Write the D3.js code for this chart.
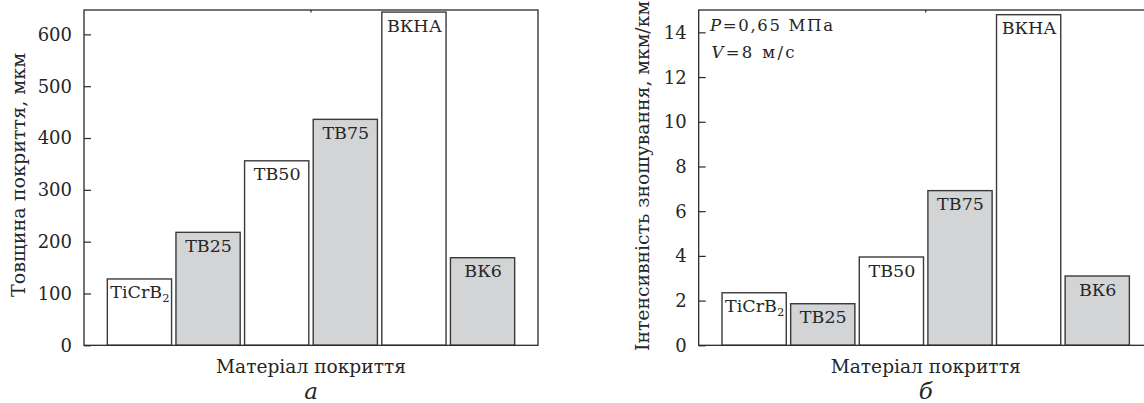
<!DOCTYPE html>
<html><head><meta charset="utf-8">
<script src="https://cdn.jsdelivr.net/npm/d3@7"></script>
<style>
body{margin:0;background:#fff}
svg{display:block;background:#fff}
svg text{font-family:"DejaVu Serif","Liberation Serif",serif}
</style>
</head><body>
<svg id="c" width="1144" height="403"></svg>
<script>
// ---- data ----
const categories = ["TiCrB", "ТВ25", "ТВ50", "ТВ75", "ВКНА", "ВК6"];
const categorySub = ["2", "", "", "", "", ""];
const shaded = [false, true, false, true, false, true];
const thickness = [128, 218, 356, 436, 643, 169];      // мкм
const wearRate = [2.35, 1.86, 3.95, 6.92, 14.79, 3.10]; // мкм/км
const thicknessTicks = [0, 100, 200, 300, 400, 500, 600];
const wearTicks = [0, 2, 4, 6, 8, 10, 12, 14];
const thicknessMax = 647;
const wearMax = 15;
const xTitle = "Матеріал покриття";
const yTitleA = "Товщина покриття, мкм";
const yTitleB = "Інтенсивність зношування, мкм/км";
const panelLetters = ["а", "б"];

(function () {
const svg = d3.select("#c");
const plotTop = 10, plotBottom = 345.3;
const ink = "#2a2a2a";
const txt = "#262626";

const panels = [
  {left: 84, right: 538, values: thickness, max: thicknessMax, ticks: thicknessTicks,
   ytitle: yTitleA, ytX: 25, ytLen: 244, ytCy: 175, letter: panelLetters[0]},
  {left: 698.7, right: 1152.7, values: wearRate, max: wearMax, ticks: wearTicks,
   ytitle: yTitleB, ytX: 649, ytLen: 350, ytCy: 176, letter: panelLetters[1], note: true}
];

panels.forEach(p => {
  const g = svg.append("g");
  const x = d3.scaleBand().domain(categories).range([p.left, p.right])
    .paddingInner(0.064).paddingOuter(0.34);
  const y = d3.scaleLinear().domain([0, p.max]).range([plotBottom, plotTop]);

  g.selectAll("rect.bar").data(categories).join("rect")
    .attr("class", "bar")
    .attr("x", d => x(d))
    .attr("width", x.bandwidth())
    .attr("y", (d, i) => y(p.values[i]))
    .attr("height", (d, i) => y(0) - y(p.values[i]))
    .attr("fill", (d, i) => shaded[i] ? "#d3d4d6" : "#fff")
    .attr("stroke", "#3a3a3a")
    .attr("stroke-width", 1.4);

  const lbl = g.selectAll("text.blab").data(categories).join("text")
    .attr("class", "blab")
    .attr("x", d => x(d) + x.bandwidth() / 2 + 0.5)
    .attr("y", (d, i) => y(p.values[i]) + 19.5)
    .attr("text-anchor", "middle")
    .attr("fill", txt)
    .attr("font-size", 17.5);
  lbl.append("tspan").text(d => d);
  lbl.filter((d, i) => categorySub[i]).append("tspan")
    .attr("font-size", 11.5).attr("dy", 4)
    .text(d => categorySub[categories.indexOf(d)]);

  g.append("rect")
    .attr("x", p.left).attr("y", plotTop)
    .attr("width", p.right - p.left).attr("height", plotBottom - plotTop)
    .attr("fill", "none").attr("stroke", ink).attr("stroke-width", 1.3);
  g.append("line")
    .attr("x1", (p.left + p.right) / 2).attr("x2", (p.left + p.right) / 2)
    .attr("y1", plotTop).attr("y2", plotTop + 2.5)
    .attr("stroke", ink).attr("stroke-width", 1.2);

  const ax = g.append("g").attr("transform", `translate(${p.left},0)`)
    .call(d3.axisRight(y).tickValues(p.ticks).tickSize(7).tickFormat(""));
  ax.select(".domain").remove();
  ax.selectAll(".tick line").attr("stroke", ink).attr("stroke-width", 1.2);

  g.selectAll("text.tl").data(p.ticks).join("text")
    .attr("class", "tl")
    .attr("x", p.left - 12)
    .attr("y", d => y(d))
    .attr("dy", "0.36em")
    .attr("text-anchor", "end")
    .attr("fill", txt)
    .attr("font-size", 18)
    .text(d => d);

  g.append("text")
    .attr("transform", `translate(${p.ytX},${p.ytCy}) rotate(-90)`)
    .attr("text-anchor", "middle")
    .attr("fill", txt)
    .attr("font-size", 18)
    .attr("textLength", p.ytLen).attr("lengthAdjust", "spacingAndGlyphs")
    .text(p.ytitle);

  const cx = (p.left + p.right) / 2;
  g.append("text")
    .attr("x", cx).attr("y", 373)
    .attr("text-anchor", "middle")
    .attr("fill", txt)
    .attr("font-size", 18)
    .attr("textLength", 190).attr("lengthAdjust", "spacingAndGlyphs")
    .text(xTitle);
  g.append("text")
    .attr("x", cx).attr("y", 399)
    .attr("text-anchor", "middle")
    .attr("fill", txt)
    .attr("font-size", 23)
    .attr("font-style", "italic")
    .text(p.letter);

  if (p.note) {
    const n1 = g.append("text").attr("x", 710).attr("y", 31).attr("font-size", 16.5).attr("fill", txt)
      .attr("textLength", 123).attr("lengthAdjust", "spacing");
    n1.append("tspan").attr("font-style", "italic").text("P");
    n1.append("tspan").text("=0,65 МПа");
    const n2 = g.append("text").attr("x", 711.5).attr("y", 57.7).attr("font-size", 16.5).attr("fill", txt)
      .attr("textLength", 83).attr("lengthAdjust", "spacing");
    n2.append("tspan").attr("font-style", "italic").text("V");
    n2.append("tspan").text("=8 м/с");
  }
});
})();
</script>
</body></html>
